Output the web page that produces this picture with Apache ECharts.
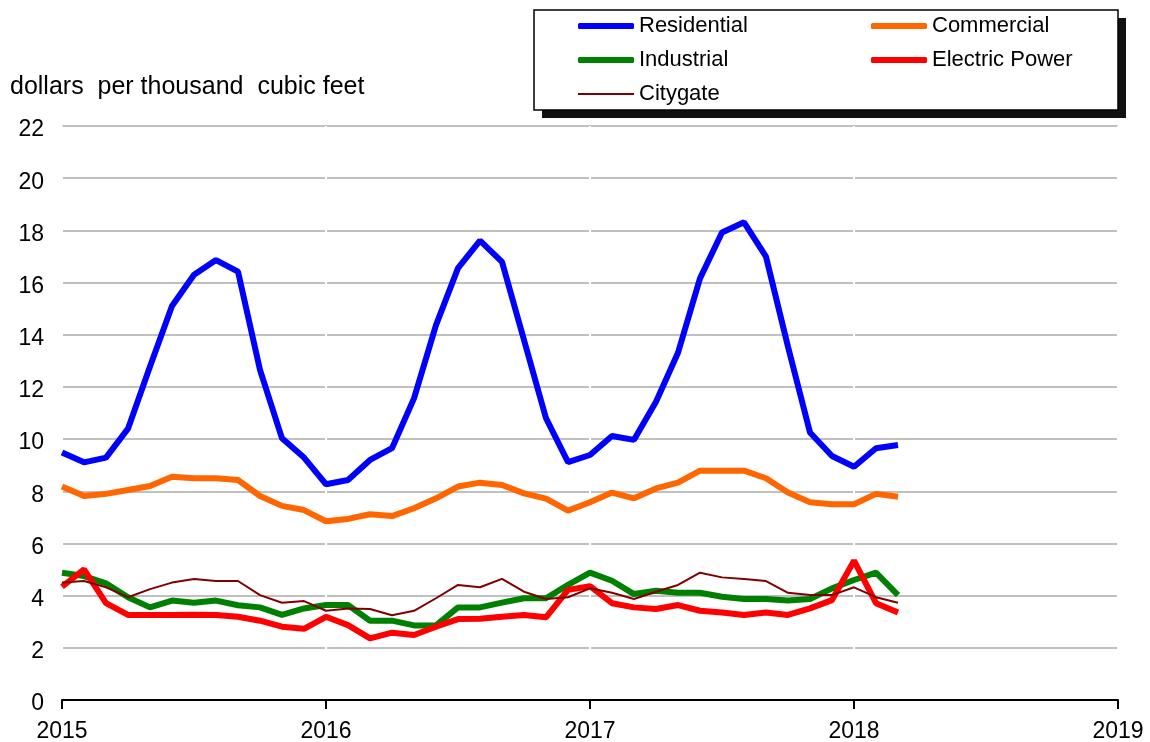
<!DOCTYPE html>
<html><head><meta charset="utf-8">
<script src="https://cdn.jsdelivr.net/npm/echarts@6/dist/echarts.min.js"></script>
<style>html,body{margin:0;padding:0;background:#fff}#c{width:1150px;height:742px}</style>
</head><body><div id="c"></div>
<script>
const startYear = 2015;
const yearTicks = [2015, 2016, 2017, 2018, 2019];
const residential = [9.49,9.11,9.29,10.40,12.78,15.10,16.30,16.86,16.42,12.65,10.03,9.29,
  8.27,8.43,9.20,9.65,11.56,14.37,16.55,17.61,16.79,13.80,10.80,9.12,
  9.39,10.12,9.97,11.43,13.31,16.16,17.92,18.31,16.99,13.54,10.25,9.35,
  8.94,9.65,9.77];
const commercial = [8.18,7.82,7.90,8.05,8.20,8.56,8.50,8.50,8.43,7.82,7.44,7.28,
  6.85,6.94,7.12,7.05,7.35,7.73,8.18,8.33,8.24,7.92,7.72,7.26,
  7.58,7.95,7.73,8.11,8.33,8.79,8.79,8.79,8.50,7.95,7.58,7.50,
  7.50,7.90,7.79];
const industrial = [4.88,4.75,4.47,3.94,3.55,3.81,3.73,3.81,3.63,3.55,3.26,3.51,
  3.64,3.64,3.04,3.04,2.86,2.86,3.55,3.55,3.73,3.90,3.90,4.41,
  4.88,4.57,4.06,4.19,4.11,4.11,3.96,3.87,3.87,3.81,3.87,4.28,
  4.60,4.88,4.02];
const electricPower = [4.34,5.01,3.71,3.26,3.26,3.26,3.27,3.26,3.19,3.04,2.81,2.73,
  3.19,2.87,2.36,2.58,2.49,2.81,3.10,3.11,3.19,3.26,3.17,4.22,
  4.36,3.71,3.55,3.49,3.64,3.42,3.35,3.26,3.35,3.26,3.51,3.83,
  5.34,3.71,3.35];
const citygate = [4.50,4.56,4.32,3.94,4.25,4.50,4.64,4.56,4.56,4.02,3.73,3.79,
  3.42,3.51,3.49,3.25,3.42,3.90,4.41,4.32,4.64,4.15,3.87,3.94,
  4.28,4.11,3.87,4.15,4.41,4.88,4.70,4.64,4.56,4.11,4.02,4.02,
  4.32,3.94,3.73];

// monthly observations starting January of startYear
function toPoints(arr){ return arr.map((v,i)=>[startYear + Math.floor(i/12) + (i%12)/12, v]); }

const font = 'Liberation Sans, Arial, sans-serif';
const chart = echarts.init(document.getElementById('c'));
function line(name, data, color, width){
  return {name, type:'line', data: toPoints(data), showSymbol:false, symbol:'none',
    lineStyle:{color, width}, itemStyle:{color}, color, animation:false, z:3};
}
const legendText = {fontSize:22, color:'#000', fontFamily:font};
function legend(left, top, names, h, icon){
  return {left, top, padding:0, orient:'vertical', itemWidth:56, itemHeight:h, itemGap:12,
    icon, data:names, z:5, textStyle:legendText};
}
chart.setOption({
  animation:false,
  textStyle:{fontFamily:font},
  grid:{left:62, right:32, top:126, bottom:42, outerBoundsMode:'none', containLabel:false},
  graphic:[
    {type:'rect', shape:{x:542, y:18, width:584, height:100}, style:{fill:'#111'}, z:0},
    {type:'rect', shape:{x:534, y:10, width:584, height:100}, style:{fill:'#fff', stroke:'#000', lineWidth:1.5}, z:1},
    {type:'text', left:10, top:75, style:{text:'dollars  per thousand  cubic feet', fontSize:25, fill:'#000', fontFamily:font}}
  ],
  legend:[
    legend(578, 15, ['Residential','Industrial'], 6, 'roundRect'),
    legend(871, 15, ['Commercial','Electric Power'], 6, 'roundRect'),
    legend(578, 83, ['Citygate'], 2, 'rect')
  ],
  xAxis:{type:'value', min:yearTicks[0], max:yearTicks[yearTicks.length-1], interval:1, z:1,
    axisLine:{lineStyle:{color:'#000', width:2}},
    axisTick:{show:true, length:9, lineStyle:{color:'#000', width:2}},
    splitLine:{show:true, lineStyle:{color:'#fff', width:2}},
    axisLabel:{fontSize:23, color:'#000', margin:20, fontFamily:font, formatter:v=>String(v)}},
  yAxis:{type:'value', min:0, max:22, interval:2, z:0,
    axisLine:{show:false}, axisTick:{show:false},
    splitLine:{lineStyle:{color:'#c0c0c0', width:2}},
    axisLabel:{color:'#000', margin:18, fontFamily:font,
      formatter:v=>'{a|'+v+'}',
      rich:{a:{fontSize:23, color:'#000', fontFamily:font, padding:[8,0,0,0]}}}},
  series:[
    line('Residential', residential, '#0000ff', 6),
    line('Commercial', commercial, '#ff6600', 6),
    line('Industrial', industrial, '#008000', 6),
    line('Electric Power', electricPower, '#ff0000', 6),
    line('Citygate', citygate, '#800000', 2)
  ]
});
</script></body></html>
